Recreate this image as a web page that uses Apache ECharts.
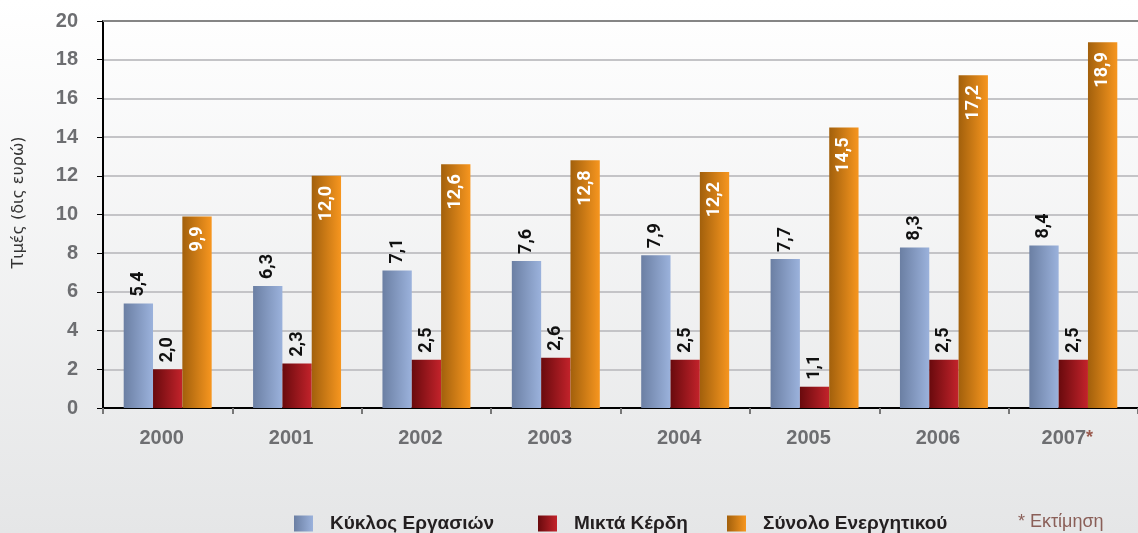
<!DOCTYPE html>
<html><head><meta charset="utf-8">
<script src="https://cdn.jsdelivr.net/npm/echarts@6/dist/echarts.min.js"></script>
<style>html,body{margin:0;padding:0;}#c{width:1138px;height:533px;}</style>
</head><body><div id="c"></div>
<script>
const categories = ['2000','2001','2002','2003','2004','2005','2006','2007*'];
const turnover = [5.4,6.3,7.1,7.6,7.9,7.7,8.3,8.4];
const grossProfit = [2.0,2.3,2.5,2.6,2.5,1.1,2.5,2.5];
const totalAssets = [9.9,12.0,12.6,12.8,12.2,14.5,17.2,18.9];
const seriesNames = ['Κύκλος Εργασιών','Μικτά Κέρδη','Σύνολο Ενεργητικού'];
const yTicks = {min:0,max:20,interval:2};

const grad = (a,b)=>new echarts.graphic.LinearGradient(0,0,1,0,[{offset:0,color:a},{offset:1,color:b}]);
const fmt = p => p.value.toFixed(1).replace('.',',');
const labelFont = 'Roboto';
const outLabel = {show:true,position:'top',rotate:90,align:'left',verticalAlign:'middle',distance:7,
  formatter:fmt,color:'#111',fontFamily:labelFont,fontWeight:'bold',fontSize:18};
const inLabel = {show:true,position:'insideTop',rotate:90,align:'right',verticalAlign:'middle',distance:10,
  formatter:fmt,color:'#fff',fontFamily:labelFont,fontWeight:'bold',fontSize:18};

const chart = echarts.init(document.getElementById('c'));
const legendText = {color:'#231f20',fontFamily:'Liberation Sans',fontWeight:'bold',fontSize:19,padding:[0,0,0,12]};
const legendCommon = {top:514,itemWidth:19,itemHeight:16,itemGap:0,icon:'rect',padding:0,textStyle:legendText};
chart.setOption({
  backgroundColor: new echarts.graphic.LinearGradient(0,0,0,1,[{offset:0,color:'#ffffff'},{offset:1,color:'#e5e6e7'}]),
  animation:false,
  grid:{left:103,right:0,top:21,bottom:125},
  legend:[
    Object.assign({data:[seriesNames[0]],left:294},legendCommon),
    Object.assign({data:[seriesNames[1]],left:538},legendCommon),
    Object.assign({data:[seriesNames[2]],left:727},legendCommon)
  ],
  graphic:[{type:'text',left:1018,top:513,style:{text:'* Εκτίμηση',fill:'#8a5f58',font:'18px "Liberation Sans"'}}],
  xAxis:{type:'category',data:categories,
    axisLine:{lineStyle:{color:'#000',width:2}},
    axisTick:{show:true,interval:0,length:6,lineStyle:{color:'#777',width:2}},
    axisLabel:{interval:0,color:'#6d6e71',fontFamily:'Liberation Sans',fontWeight:'bold',fontSize:20,margin:20,padding:[0,12,0,0],
      formatter:v=>v.endsWith('*')?'{a|'+v.slice(0,-1)+'}{s|*}':'{a|'+v+'}',
      rich:{a:{color:'#6d6e71',fontFamily:'Liberation Sans',fontWeight:'bold',fontSize:20},
            s:{color:'#9a5a4e',fontFamily:'Liberation Sans',fontWeight:'bold',fontSize:18}}}},
  yAxis:{type:'value',min:yTicks.min,max:yTicks.max,interval:yTicks.interval,
    name:'Τιμές (δις ευρώ)',nameLocation:'middle',nameGap:76,
    nameTextStyle:{color:'#333',fontFamily:'DejaVu Sans',fontSize:16,padding:[0,0,0,24]},
    axisLine:{show:true,lineStyle:{color:'#000',width:2}},
    axisTick:{show:true,length:6,lineStyle:{color:'#000',width:1}},
    axisLabel:{color:'#6d6e71',fontFamily:'Liberation Sans',fontWeight:'bold',fontSize:20,margin:25},
    splitLine:{lineStyle:{color:'#c4c4c7',width:2}}},
  series:[
    {name:seriesNames[0],type:'bar',data:turnover,barGap:'0%',barCategoryGap:'32%',
      itemStyle:{color:grad('#6b7fa3','#9bb2dc')},label:outLabel,
      markLine:{silent:true,symbol:'none',label:{show:false},lineStyle:{color:'#858585',width:2,type:'solid'},data:[{yAxis:20}]}},
    {name:seriesNames[1],type:'bar',data:grossProfit,barGap:'0%',barCategoryGap:'32%',
      itemStyle:{color:grad('#690a0d','#c3232b')},label:outLabel},
    {name:seriesNames[2],type:'bar',data:totalAssets,barGap:'0%',barCategoryGap:'32%',
      itemStyle:{color:grad('#a2600c','#f7961f')},label:inLabel}
  ]
});
</script></body></html>
